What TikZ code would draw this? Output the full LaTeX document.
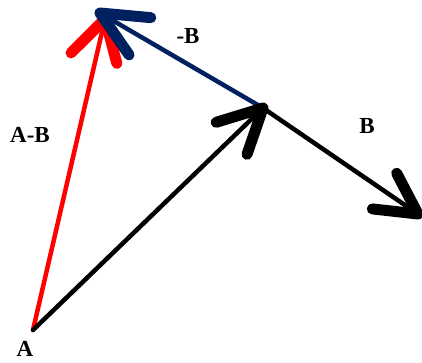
\documentclass[tikz,border=0pt]{standalone}
\usepackage{fontspec}
\setmainfont{Liberation Serif}
\usetikzlibrary{calc}
\definecolor{navyb}{RGB}{0,32,96}
\tikzset{
  shaft/.style={line width=4.5pt, line cap=round},
  headarms/.style={line width=11pt, line cap=round, line join=round},
  lbl/.style={font=\bfseries\fontsize{23}{26}\selectfont, inner sep=0pt}
}
\begin{document}
\begin{tikzpicture}[x=1pt,y=-1pt]
\useasboundingbox (0,0) rectangle (422,362);
\coordinate (A) at (33,330);
\coordinate (M) at (263,108);
\coordinate (N) at (100,13);
\coordinate (R) at (105,19);
\coordinate (E) at (418,214);
% red A-B
\draw[shaft, red] (A) -- (R);
\draw[headarms, red] ($(R)!46pt!28:(A)$) -- (R) -- ($(R)!48pt!-32:(A)$);
% black A -> M
\draw[shaft, black] (A) -- (M);
% navy -B
\draw[shaft, navyb] (M) -- (N);
\draw[headarms, navyb] ($(N)!51pt!25:(M)$) -- (N) -- ($(N)!51pt!-25:(M)$);
% black head at M
\draw[headarms, black] ($(M)!49pt!27:(A)$) -- (M) -- ($(M)!49pt!-27:(A)$);
% black B
\draw[shaft, black] (M) -- (E);
\draw[headarms, black] ($(E)!46pt!28:(M)$) -- (E) -- ($(E)!46pt!-28:(M)$);
% labels
\node[lbl] (la) at (25,349) {A};
\node[lbl] (lab) at (30,135) {A-B};
\node[lbl] (lnb) at (188,36) {-B};
\node[lbl] (lb) at (367,126) {B};
\end{tikzpicture}
\end{document}
